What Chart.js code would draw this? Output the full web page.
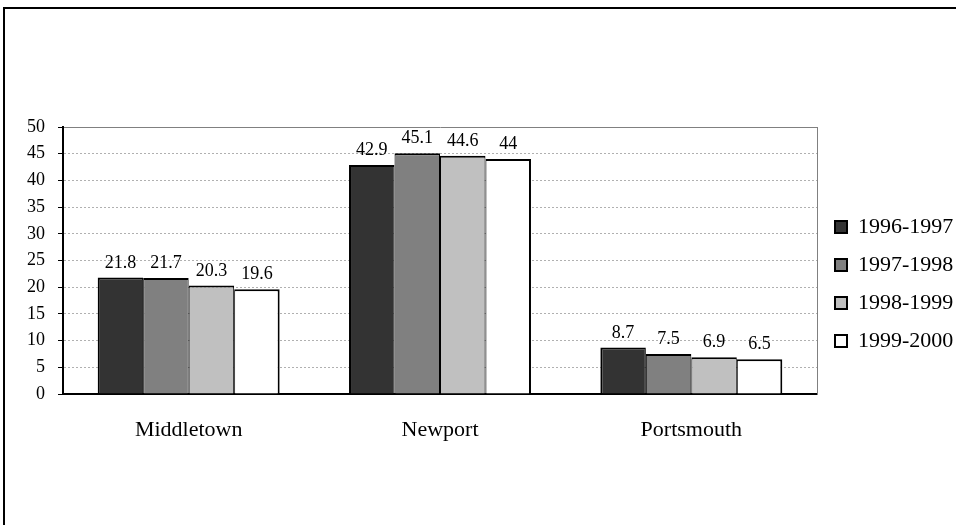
<!DOCTYPE html>
<html>
<head>
<meta charset="utf-8">
<script src="https://cdn.jsdelivr.net/npm/chart.js@4/dist/chart.umd.min.js"></script>
<style>
  html, body { margin: 0; padding: 0; background: #fff; overflow: hidden; }
  #wrap { position: relative; width: 956px; height: 525px; }
  #frame { position: absolute; left: 3px; top: 7px; width: 1000px; height: 600px;
           border-left: 2px solid #000; border-top: 2px solid #000; box-sizing: border-box; }
  canvas { position: absolute; left: 0; top: 0; }
</style>
</head>
<body>
<div id="wrap">
  <div id="frame"></div>
  <canvas id="c" width="956" height="525"></canvas>
</div>
<script>
// Towns on the x axis
const towns = ['Middletown', 'Newport', 'Portsmouth'];
// School-year series
const years = ['1996-1997', '1997-1998', '1998-1999', '1999-2000'];
const s1996 = [21.8, 42.9, 8.7];
const s1997 = [21.7, 45.1, 7.5];
const s1998 = [20.3, 44.6, 6.9];
const s1999 = [19.6, 44, 6.5];
const fills = ['#333333', '#808080', '#c0c0c0', '#ffffff'];
// Y axis range
const yMin = 0, yMax = 50, yStep = 5;

const serif = '"Liberation Serif", "Times New Roman", serif';

// Value labels above each bar
const valueLabels = {
  id: 'valueLabels',
  afterDatasetsDraw(chart) {
    const ctx = chart.ctx;
    ctx.save();
    ctx.font = '18px ' + serif;
    ctx.fillStyle = '#000';
    ctx.textAlign = 'center';
    ctx.textBaseline = 'alphabetic';
    chart.data.datasets.forEach((ds, di) => {
      const meta = chart.getDatasetMeta(di);
      meta.data.forEach((el, i) => {
        ctx.fillText(String(ds.data[i]), el.x, el.y - 10);
      });
    });
    ctx.restore();
  }
};

const seriesValues = [s1996, s1997, s1998, s1999];
const last = years.length - 1;

new Chart(document.getElementById('c'), {
  type: 'bar',
  data: {
    labels: towns,
    datasets: years.map((y, i) => ({
      label: y,
      data: seriesValues[i],
      backgroundColor: fills[i],
      borderColor: '#000',
      // outer edges of a group get the full width, shared edges split it
      borderWidth: { left: i === 0 ? 2 : 1, right: i === last ? 2 : 1, top: 2, bottom: 0 },
      borderSkipped: 'start',
      categoryPercentage: 0.724,
      barPercentage: 1.0
    }))
  },
  options: {
    responsive: false,
    animation: false,
    layout: { padding: { left: 0, right: 0, top: 119, bottom: 76 } },
    plugins: {
      tooltip: { enabled: false },
      legend: {
        position: 'right',
        maxWidth: 137,
        labels: {
          boxWidth: 12,
          boxHeight: 12,
          padding: 16,
          color: '#000',
          font: { family: serif, size: 22 },
          generateLabels(chart) {
            const items = Chart.defaults.plugins.legend.labels.generateLabels(chart);
            items.forEach(it => { it.lineWidth = 2; it.strokeStyle = '#000'; });
            return items;
          }
        }
      }
    },
    scales: {
      x: {
        grid: { display: false, drawTicks: false },
        border: { display: true, color: '#000', width: 2 },
        ticks: { color: '#000', font: { family: serif, size: 22 }, padding: 23 },
        afterFit(scale) { scale.height = 55; }
      },
      // empty band above the plot
      xTop: {
        type: 'linear',
        position: 'top',
        display: true,
        grid: { display: false, drawTicks: false },
        ticks: { display: false },
        border: { display: false },
        afterFit(scale) { scale.height = 8; }
      },
      y: {
        min: yMin,
        max: yMax,
        ticks: { stepSize: yStep, color: '#000', font: { family: serif, size: 18 }, padding: 13 },
        grid: {
          color: c => (c.tick && c.tick.value === yMax) ? '#808080' : '#b0b0b0',
          lineWidth: 1,
          tickColor: '#000',
          tickLength: 5,
          tickWidth: 1
        },
        border: {
          display: true, color: '#000', width: 2,
          dash: c => (c.tick && c.tick.value === yMax) ? [] : [2, 2]
        },
        afterFit(scale) { scale.width = 63; }
      },
      yRight: {
        position: 'right',
        display: true,
        grid: { display: false, drawTicks: false },
        ticks: { display: false },
        border: { display: true, color: '#808080', width: 1 },
        afterFit(scale) { scale.width = 2; }
      }
    }
  },
  plugins: [valueLabels]
});
</script>
</body>
</html>
